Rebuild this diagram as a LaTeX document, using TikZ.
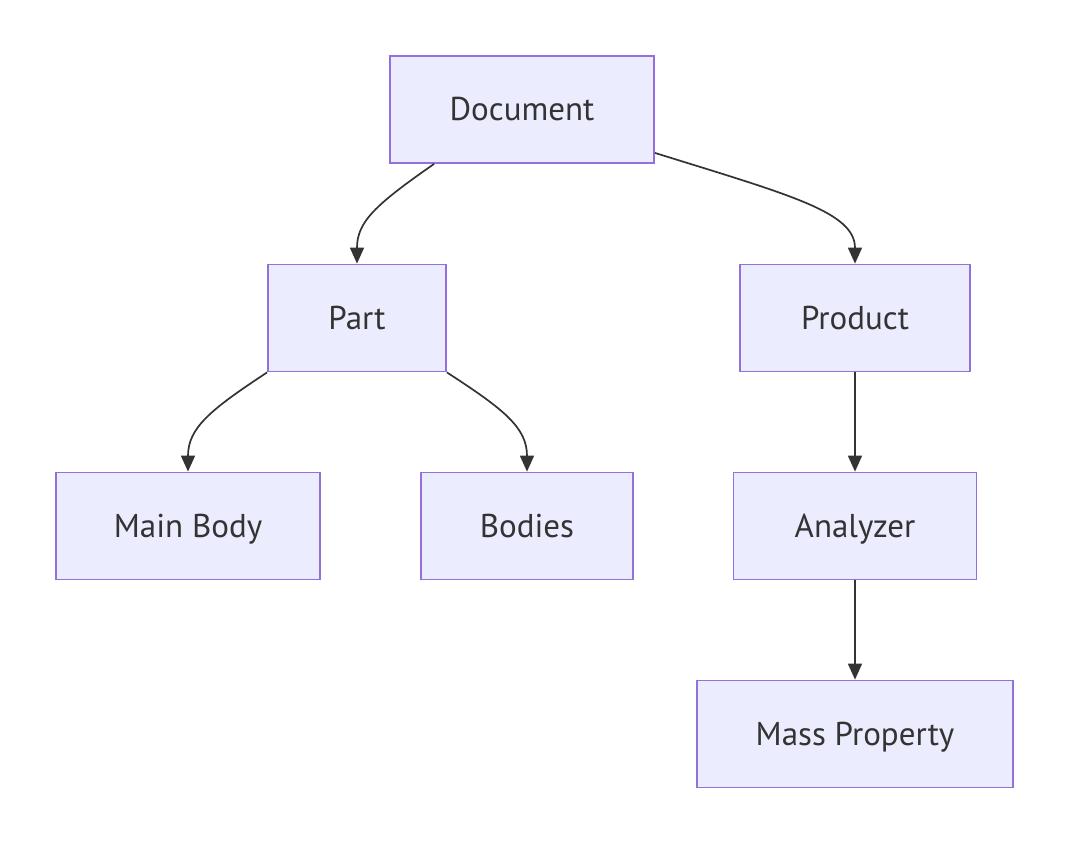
\documentclass[tikz,border=0pt]{standalone}
\usepackage{fontspec}
\setmainfont{PT Sans}
\usetikzlibrary{arrows.meta}
\definecolor{nodefill}{HTML}{ECECFF}
\definecolor{nodeborder}{HTML}{9370DB}
\definecolor{ink}{HTML}{333333}
\begin{document}
\begin{tikzpicture}[x=1pt,y=-1pt,
  box/.style={draw=nodeborder,fill=nodefill,line width=1.8pt,minimum height=107pt,inner sep=0pt,text=ink,text height=22pt,text depth=0pt,font=\fontsize{33}{39}\selectfont},
  edge/.style={draw=ink,line width=1.7pt,-{Triangle[width=14pt,length=16pt]}}]
\useasboundingbox (0,0) rectangle (1069,844);
\node[box,minimum width=264pt] (doc) at (522,109.5) {Document};
\node[box,minimum width=178pt] (part) at (357,318) {Part};
\node[box,minimum width=230pt] (prod) at (855,318) {Product};
\node[box,minimum width=264pt] (main) at (188,526) {Main Body};
\node[box,minimum width=212pt] (bodies) at (527,526) {Bodies};
\node[box,minimum width=243pt] (anal) at (855,526) {Analyzer};
\node[box,minimum width=316pt] (mass) at (855,734) {Mass Property};
\draw[edge] ([xshift=45pt]doc.south west) .. controls (375,205) and (357,222) .. (part.north);
\draw[edge] ([yshift=11pt]doc.south east) .. controls (790,195) and (855,212) .. (prod.north);
\draw[edge] (part.south west) .. controls (210,410) and (188,428) .. (main.north);
\draw[edge] (part.south east) .. controls (505,410) and (527,428) .. (bodies.north);
\draw[edge] (prod.south) -- (anal.north);
\draw[edge] (anal.south) -- (mass.north);
\end{tikzpicture}
\end{document}
